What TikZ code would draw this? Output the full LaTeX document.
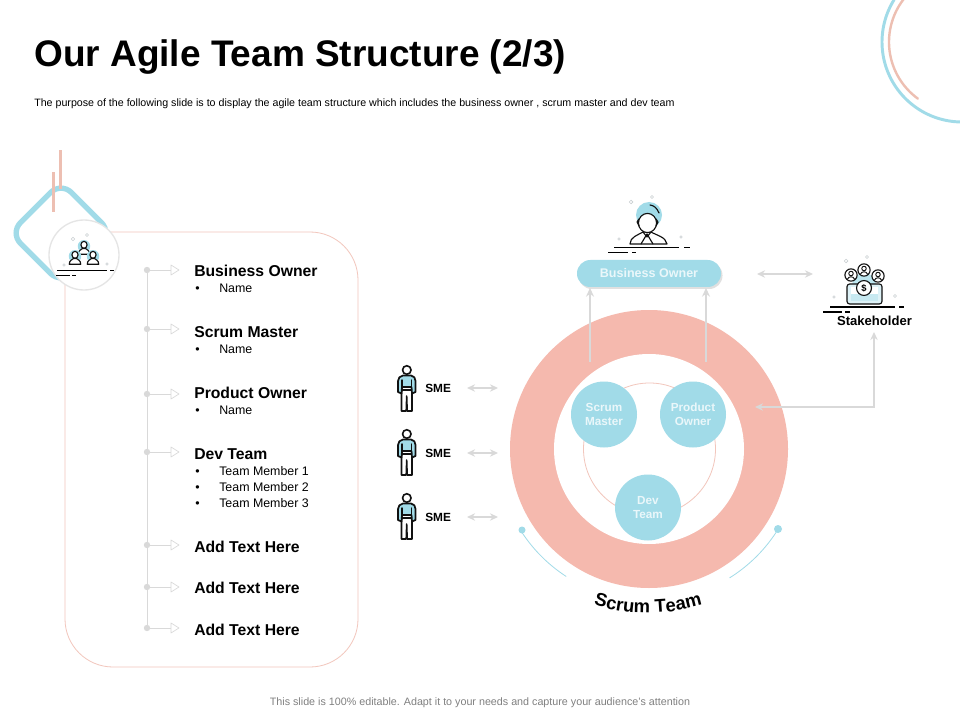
\documentclass[tikz,border=0pt]{standalone}
\usepackage{fontspec}
\setmainfont{Liberation Sans}
\usetikzlibrary{arrows.meta,decorations.text,shapes.geometric}
\definecolor{tblue}{HTML}{A1DBE8}
\definecolor{tpink}{HTML}{F5B9AE}
\definecolor{tbar}{HTML}{EDBFB2}
\definecolor{tline}{HTML}{F2C6BC}
\definecolor{tgray}{HTML}{D9D9D9}
\definecolor{tdeco}{HTML}{C9CFD1}
\definecolor{tink}{HTML}{111111}
\definecolor{tsoft}{HTML}{EAF7FA}
\tikzset{
  x=0.75pt,y=-0.75pt,
  head/.style={font=\fontsize{11.8}{13}\selectfont\bfseries,anchor=base west,inner sep=0pt,text=black},
  sub/.style={font=\fontsize{9.3}{11}\selectfont,anchor=base west,inner sep=0pt,text=black},
  disc/.style={circle,fill=tblue,minimum size=66*0.75pt,inner sep=0pt,align=center,text=tsoft,
    font=\fontsize{8.8}{10.5}\selectfont\bfseries},
  link/.style={draw=tgray,line width=1.1pt,-{Stealth[length=6.5pt,width=6pt]}},
  dlink/.style={draw=tgray,line width=1.1pt,{Stealth[length=6pt,width=5.5pt]}-{Stealth[length=6pt,width=5.5pt]}},
  tick/.style={draw=tgray,line width=0.6pt},
  tip/.style={draw=tgray,fill=white,line width=0.5pt,line join=round},
  ink/.style={draw=tink,line width=0.85pt,line cap=round,line join=round},
  deco/.style={draw=tdeco,line width=0.4pt,fill=white},
  smelabel/.style={font=\fontsize{8.9}{10}\selectfont\bfseries,anchor=west,inner sep=0pt,text=black},
}
% timeline marker
\newcommand{\marker}[2]{%
  \coordinate (#1) at (147,#2);
  \coordinate (#1e) at (171,#2);
  \fill[tgray] (#1) circle[radius=2.4pt];
  \draw[tick] (#1) -- (#1e);
  \draw[tip] (171,#2-5) -- (179,#2) -- (171,#2+5) -- cycle;
}
\newcommand{\bul}[3]{%
  \node[sub] (#1b) at (195,#2+5.5) {•};
  \node[sub] (#1) at (219,#2+5.5) {#3};
}
% ground lines: x left, y, main end, dash from, dash to, second left, second end, short from, short to
\newcommand{\ground}[9]{%
  \draw[draw=black,line width=0.9pt] (#1,#2) -- (#3,#2) (#4,#2) -- (#5,#2);
  \draw[draw=black,line width=0.9pt] (#6,#2+5) -- (#7,#2+5) (#8,#2+5) -- (#9,#2+5);
}
% small person bust
\newcommand{\bust}[3]{%
  \begin{scope}[shift={(#1,#2)},scale=#3]
    \fill[tblue] (0,-1) circle[radius=6.5pt];
    \draw[ink,fill=white] (0,-3) ellipse[x radius=3.2pt,y radius=3.6pt];
    \draw[ink,fill=white] (-8,10) .. controls (-8,4) and (-3,4) .. (-2,2) -- (2,2) .. controls (3,4) and (8,4) .. (8,10) -- cycle;
  \end{scope}
}
% SME figure
\newcommand{\sme}[1]{%
  \begin{scope}[shift={(0,#1)}]
    \draw[ink,line width=1.15pt,fill=white] (401.5,390) -- (401.5,411) -- (406.2,411) -- (406.7,396) -- (407.2,411) -- (412,411) -- (412,390) -- cycle;
    \draw[ink,line width=1.3pt,fill=tblue] (403,375.5) -- (411,375.5) .. controls (414,376) and (415.5,378) .. (415.5,381) -- (415.5,392) -- (412,393.5) -- (411.5,387) -- (402,387) -- (401.5,393.5) -- (398,392) -- (398,381) .. controls (398,378) and (400,376) .. (403,375.5) -- cycle;
    \draw[ink,line width=1.1pt] (402,380) -- (402,388) (411.5,380) -- (411.5,388);
    \draw[ink,line width=1.2pt,fill=white] (406.8,370) circle[radius=3.2pt];
  \end{scope}
}
\begin{document}
\begin{tikzpicture}
\useasboundingbox (0,0) rectangle (960,720);
\fill[white] (0,0) rectangle (960,720);

% top right arcs
\draw[tblue,line width=2.2pt] plot[domain=90:212,samples=70,variable=\t] ({962+80*cos(\t)},{42+80*sin(\t)});
\draw[tbar,line width=1.8pt,line cap=round] plot[domain=126:218,samples=50,variable=\t] ({959+70*cos(\t)},{42+70*sin(\t)});

% title
\node[anchor=base west,inner sep=0pt,font=\fontsize{27.75}{30}\selectfont\bfseries] (title) at (34,67) {Our Agile Team Structure (2/3)};
\node[anchor=base west,inner sep=0pt,font=\fontsize{8}{9}\selectfont] (subtitle) at (34,106.5) {The purpose of the following slide is to display the agile team structure which includes the business owner , scrum master and dev team};
\node[anchor=base,inner sep=0pt,text=black!50,font=\fontsize{8.05}{9}\selectfont] (footer) at (480,705) {This slide is 100\% editable. Adapt it to your needs and capture your audience's attention};

% left panel
\draw[tline,line width=0.6pt,rounded corners=36pt] (65,232) rectangle (358,667);
\node[draw=tblue,line width=4pt,rounded corners=11pt,rotate=45,minimum size=72*0.75pt,inner sep=0pt] (frame) at (61,233) {};
\fill[tbar] (59.2,150) rectangle (62,189);
\fill[tbar] (51.7,172) rectangle (54.5,212);
\node[circle,draw=black!10,line width=1pt,fill=white,minimum size=70*0.75pt,inner sep=0pt] (badge) at (84,255) {};
% team icon
\bust{84}{247}{0.72}
\bust{75}{257}{0.72}
\bust{93}{257}{0.72}
\draw[deco] (73,239) circle[radius=1.3pt] (87,235) circle[radius=1.1pt] (64,265) circle[radius=1pt] (107,264) circle[radius=1pt];
\ground{57}{270.5}{107}{110}{114}{56}{70}{72}{76}

% timeline
\draw[tick] (147,270) -- (147,628);
\marker{m1}{270}\marker{m2}{329}\marker{m3}{394}\marker{m4}{452}\marker{m5}{545}\marker{m6}{587}\marker{m7}{628}

\node[head] (h1) at (194,276.5) {Business Owner};
\bul{n1}{287}{Name}
\node[head] (h2) at (194,337.5) {Scrum Master};
\bul{n2}{348}{Name}
\node[head] (h3) at (194,398.5) {Product Owner};
\bul{n3}{409}{Name}
\node[head] (h4) at (194,459.5) {Dev Team};
\bul{t1}{470}{Team Member 1}
\bul{t2}{486}{Team Member 2}
\bul{t3}{502}{Team Member 3}
\node[head] (h5) at (194,552.5) {Add Text Here};
\node[head] (h6) at (194,593.5) {Add Text Here};
\node[head] (h7) at (194,635.5) {Add Text Here};

% SME
\sme{0}\sme{64}\sme{128}
\node[smelabel] (s1) at (425,388.5) {SME};
\node[smelabel] (s2) at (425,453.5) {SME};
\node[smelabel] (s3) at (425,517.5) {SME};
\foreach \n/\y in {a/388,b/453,c/517}{
  \coordinate (\n l) at (467,\y);
  \coordinate (\n r) at (498,\y);
  \draw[dlink] (\n l) -- (\n r);
}

% ring
\node[circle,fill=tpink,minimum size=278*0.75pt,inner sep=0pt] (ring) at (649,449) {};
\node[circle,fill=white,minimum size=190*0.75pt,inner sep=0pt] (hole) at (649,449) {};
\node[circle,draw=tline,line width=0.6pt,minimum size=132*0.75pt,inner sep=0pt] (orbit) at (649.5,449) {};
\node[disc] (sm) at (604,414.5) {Scrum\\Master};
\node[disc] (po) at (693,414.5) {Product\\Owner};
\node[disc] (dt) at (648,507.5) {Dev\\Team};

% blue arcs
\draw[tblue,line width=0.6pt] plot[domain=123:147,samples=20,variable=\t] ({649+152*cos(\t)},{449+152*sin(\t)});
\draw[tblue,line width=0.6pt] plot[domain=32:58,samples=20,variable=\t] ({649+152*cos(\t)},{449+152*sin(\t)});
\node[circle,fill=tblue,minimum size=7*0.75pt,inner sep=0pt] (dl) at (522,530) {};
\node[circle,fill=tblue,minimum size=8*0.75pt,inner sep=0pt] (dr) at (778,529) {};

% curved label
\path[decorate,decoration={text along path,text align=center,
  text={|\fontsize{13.8}{15}\selectfont\bfseries|Scrum Team}}]
  plot[domain=115:65,samples=40,variable=\t] ({648+183*cos(\t)},{430+183*sin(\t)});

% business owner pill
\node[fill=black!12,rounded corners=10pt,minimum width=144*0.75pt,minimum height=27*0.75pt,inner sep=0pt] (pillshadow) at (650.5,275.5) {};
\node[fill=tblue,rounded corners=10pt,minimum width=144*0.75pt,minimum height=27*0.75pt,inner sep=0pt,text=tsoft,font=\fontsize{9.4}{11}\selectfont\bfseries] (pill) at (649,273.5) {Business Owner};

% owner icon
\fill[tblue] (649,215) circle[radius=9.75pt];
\draw[ink,fill=white] (630,244) .. controls (630,237) and (638,235) .. (643,232) -- (651,232) .. controls (656,235) and (666,237) .. (667,244) -- cycle;
\draw[ink] (647,234) -- (641,244) (647,234) -- (653,244) (643,232) -- (647,237) -- (651,232);
\fill[tink] (647,235) circle[radius=1pt];
\draw[ink,fill=white] (647.5,223) ellipse[x radius=6.8pt,y radius=7.2pt];
\draw[ink] (639,219) -- (637,222) -- (639,226) (656,219) -- (658,222) -- (656,226);
\draw[ink] (650,205) .. controls (654,205.5) and (657,208) .. (659,213);
\draw[deco] (631,202) circle[radius=1.4pt] (652,197) circle[radius=1.1pt] (619,239) circle[radius=1pt] (681,237) circle[radius=1pt];
\ground{614}{247.5}{679}{684}{690}{608}{628}{632}{636}

% stakeholder icon
\fill[tblue!70] (864,285) circle[radius=9pt];
\draw[ink,fill=tblue!35,rounded corners=2pt] (847,284) rectangle (882,304);
\fill[white] (851,287) rectangle (878,301);
\fill[tblue!60] (851,294) rectangle (878,301);
\draw[ink,fill=white] (864,288) circle[radius=5.6pt];
\node[inner sep=0pt,font=\fontsize{7}{8}\selectfont\bfseries] (dollar) at (864,288) {\$};
\foreach \x/\y in {851/275,864/270,878/276}{
  \draw[ink,fill=white] (\x,\y) circle[radius=4.6pt];
  \draw[ink,line width=0.7pt] (\x,\y-1.5) circle[radius=1.7pt];
  \draw[ink,line width=0.7pt] (\x-3.5,\y+4) .. controls (\x-2,\y+1) and (\x+2,\y+1) .. (\x+3.5,\y+4);
}
\draw[deco] (846,261) circle[radius=1.4pt] (867,257) circle[radius=1.1pt] (834,297) circle[radius=1pt] (895,296) circle[radius=1.1pt];
\ground{830}{307}{895}{899}{904}{823}{842}{845}{850}
\node[inner sep=0pt,font=\fontsize{9.8}{11}\selectfont\bfseries] (stake) at (874.5,321) {Stakeholder};

% connectors
\coordinate (a1) at (590,362);
\coordinate (a1t) at (590,288);
\coordinate (a2) at (706,362);
\coordinate (a2t) at (706,288);
\draw[link] (a1) -- (a1t);
\draw[link] (a2) -- (a2t);
\coordinate (p1) at (757,274);
\coordinate (p2) at (813,274);
\draw[dlink] (p1) -- (p2);
\coordinate (e1) at (755,407);
\coordinate (e2) at (874,407);
\coordinate (e3) at (874,332);
\draw[dlink] (e1) -- (e2) -- (e3);
\end{tikzpicture}
\end{document}
